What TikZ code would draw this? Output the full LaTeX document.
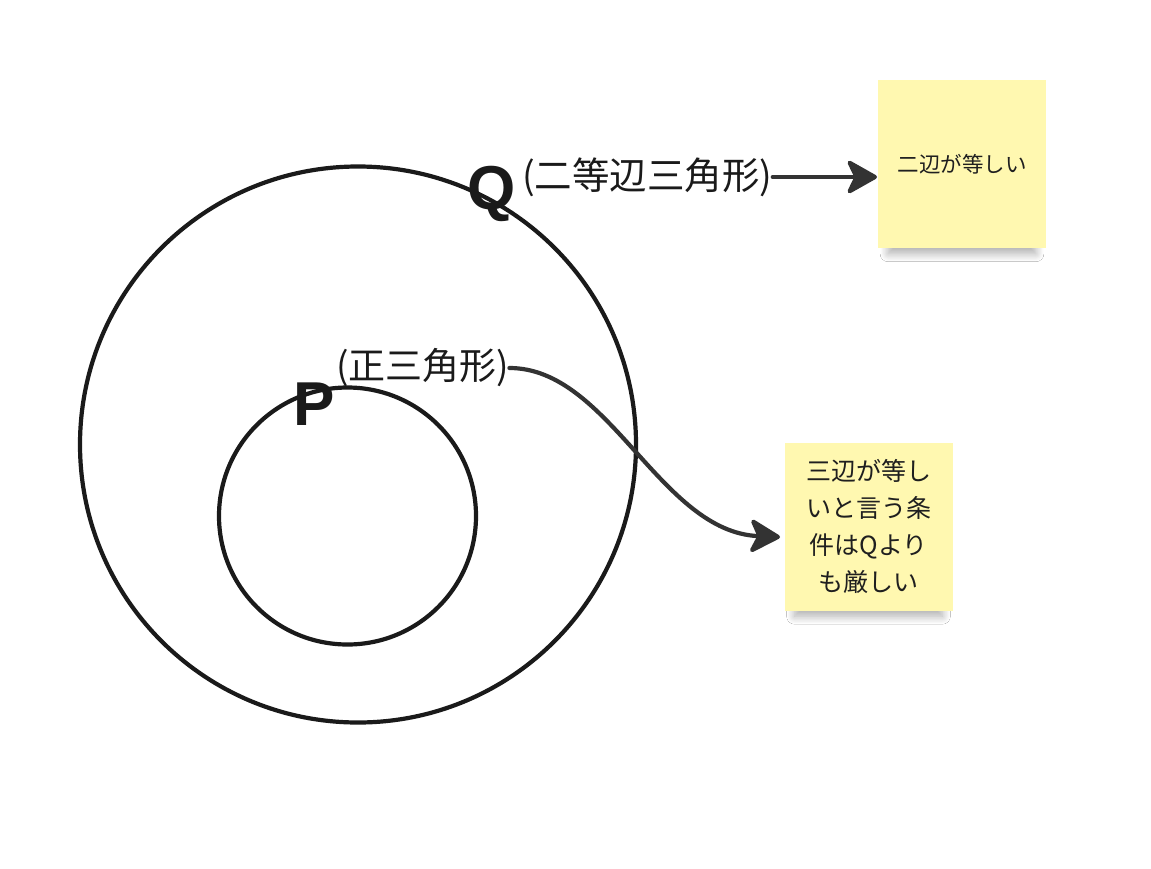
\documentclass[tikz,border=0pt]{standalone}
\usepackage{fontspec}
\setmainfont{Noto Sans CJK JP}
\newfontfamily\labfont{Liberation Sans}
\usetikzlibrary{arrows.meta,shadows.blur}
\definecolor{sticky}{RGB}{255,248,176}
\definecolor{ink}{RGB}{26,26,26}
\definecolor{arrowc}{RGB}{51,51,51}
\tikzset{
  ring/.style={draw=ink, line width=4.2pt},
  setlabel/.style={font=\labfont\bfseries\fontsize{62}{62}\selectfont, text=ink, inner sep=0pt},
  cond/.style={text=ink, inner sep=0pt},
  note/.style={fill=sticky, minimum width=168pt, minimum height=168pt, inner sep=0pt, align=center, text=black!88,
    blur shadow={shadow xshift=0pt, shadow yshift=-18pt, shadow scale=0.88,
      shadow blur radius=9pt, shadow blur steps=14, shadow opacity=32}},
  link/.style={draw=arrowc, line width=4.2pt, line cap=round,
    -{Stealth[length=34pt, width=38pt, inset=9pt, round]}},
}
\begin{document}
\begin{tikzpicture}[x=1pt,y=-1pt]
\useasboundingbox (0,0) rectangle (1151,868);
\fill[white] (0,0) rectangle (1151,868);
% circles
\node[ring, circle, minimum size=556pt, inner sep=0pt] (outer) at (358,444.5) {};
\node[ring, circle, minimum size=257pt, inner sep=0pt] (inner) at (347.5,516) {};
% labels
\node[setlabel] (Q) at (492,194) {Q};
\node[setlabel] (P) at (314,404) {P};
\node[cond, font=\fontsize{37.5}{42}\selectfont, anchor=west] (qt) at (522,177) {(二等辺三角形)};
\node[cond, font=\fontsize{37}{40}\selectfont, anchor=west] (pt) at (336,368) {(正三角形)};
% sticky notes
\node[note, font=\fontsize{21.5}{24}\selectfont] (n1) at (962,164) {二辺が等しい};
\node[note, font=\fontsize{25}{37}\selectfont] (n2) at (868.5,526.5) {三辺が等し\\いと言う条\\件はQより\\も厳しい};
\coordinate (t1) at (877,177);
\coordinate (t2) at (780,537);
% connectors
\draw[link] (qt.east) -- (qt.east -| t1);
\draw[link] (pt.east) .. controls +(100,0) and +(-120,-5) .. (t2);
\end{tikzpicture}
\end{document}
